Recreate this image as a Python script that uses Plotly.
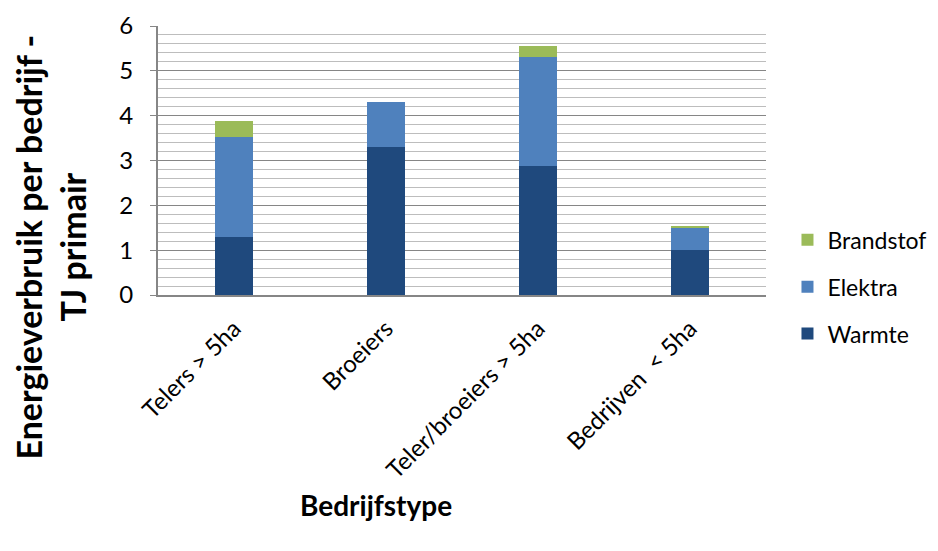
import plotly.graph_objects as go

categories = ["Telers > 5ha", "Broeiers", "Teler/broeiers > 5ha", "Bedrijven  < 5ha"]
warmte = [1.30, 3.30, 2.88, 1.00]
elektra = [2.22, 1.00, 2.42, 0.50]
brandstof = [0.37, 0.00, 0.25, 0.04]
y_ticks = [0, 1, 2, 3, 4, 5, 6]

FONT = "Lato"

fig = go.Figure()
for rank, (name, vals, col) in zip([3, 2, 1], [("Warmte", warmte, "#1F497D"),
                                              ("Elektra", elektra, "#4F81BD"),
                                              ("Brandstof", brandstof, "#9BBB59")]):
    fig.add_trace(go.Bar(x=categories, y=vals, name=name, marker_color=col,
                         marker_line_width=0, legendgroup=name, legendrank=rank))

fig.update_layout(
    width=938, height=551,
    barmode="stack", bargap=0.75,
    plot_bgcolor="white", paper_bgcolor="white",
    margin=dict(l=150, r=180, t=18, b=264),
    font=dict(family=FONT, size=24, color="black"),
    showlegend=True,
    legend=dict(xref="container", yref="container", x=0.831, xanchor="left",
                y=0.494, yanchor="middle",
                traceorder="grouped", tracegroupgap=14,
                font=dict(size=23, family=FONT)),
    xaxis=dict(tickangle=-45, showgrid=False, showline=True, linecolor="#868686",
               linewidth=2, ticks="", ticklabelstandoff=8, automargin=False,
               tickfont=dict(size=24, family=FONT)),
    yaxis=dict(range=[0, 6], tickvals=y_ticks, showline=True, linecolor="#868686",
               linewidth=2, ticks="outside", ticklen=6, tickcolor="#868686",
               ticklabelstandoff=12, automargin=False,
               gridcolor="#868686", gridwidth=1,
               minor=dict(dtick=0.2, showgrid=True, gridcolor="#bdbdbd", gridwidth=1),
               zeroline=False, tickfont=dict(size=24, family=FONT)),
    annotations=[
        dict(text="<b>Energieverbruik per bedrijf -</b><br><b>TJ primair</b>",
             xref="paper", yref="paper", x=-0.177, y=0.178, textangle=-90,
             showarrow=False, font=dict(size=34, family=FONT), xanchor="center", yanchor="middle"),
        dict(text="<b>Bedrijfstype</b>", xref="paper", yref="paper", x=0.359, y=-0.78,
             showarrow=False, font=dict(size=28, family=FONT), xanchor="center", yanchor="middle"),
    ],
)

fig.write_html("out.html")
